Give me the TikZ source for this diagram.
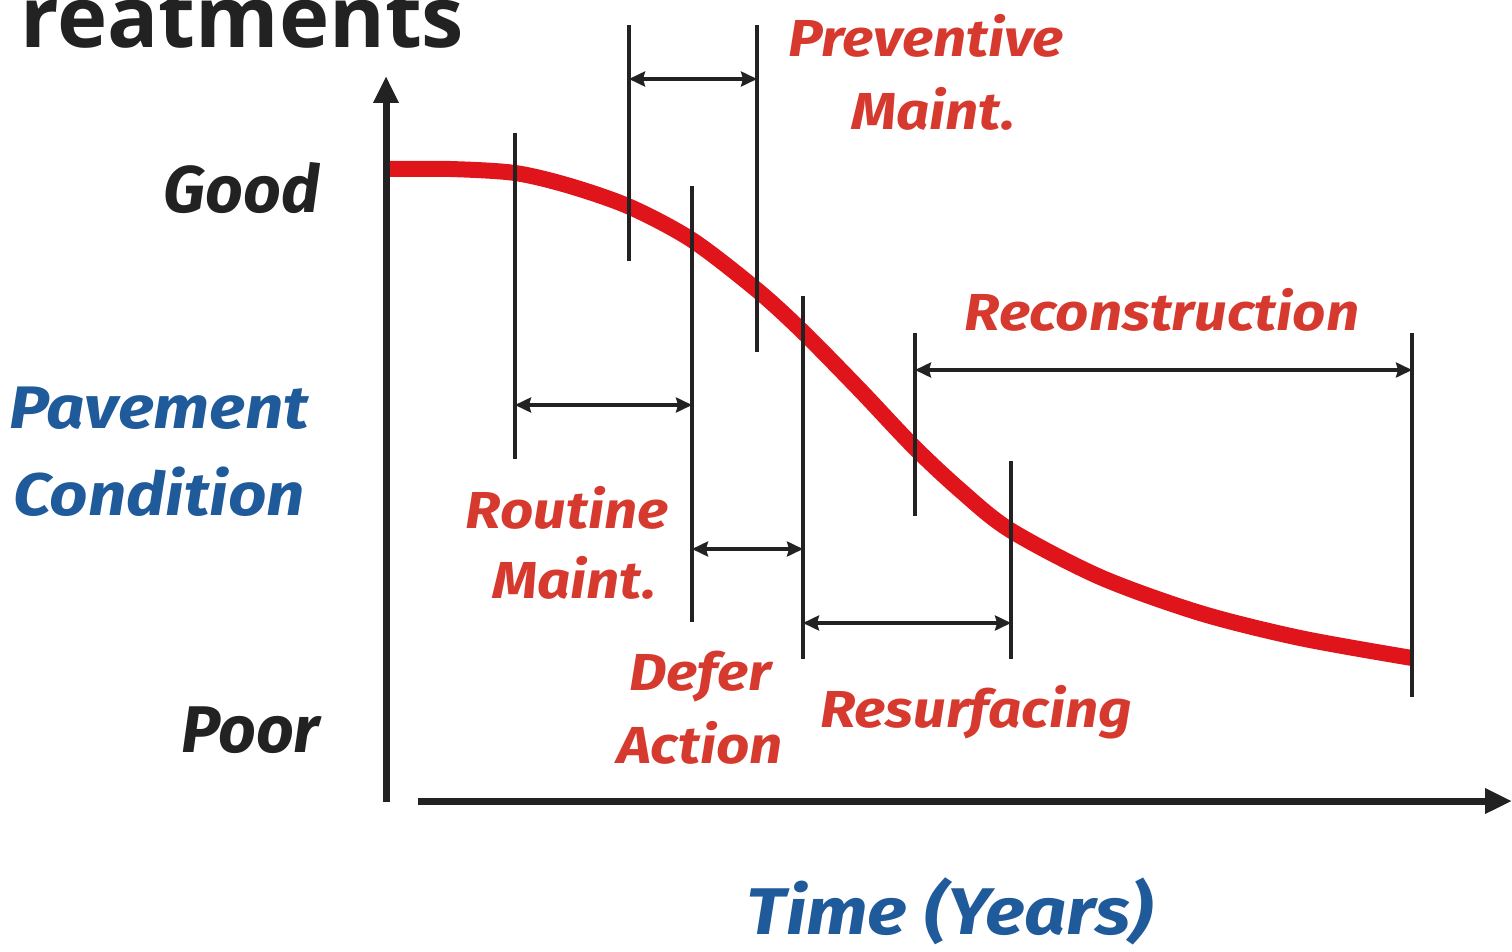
\documentclass[tikz,border=0pt]{standalone}
\usepackage{fontspec}
\setmainfont{Fira Sans}
\newfontfamily\labelfont[FakeStretch=1.12]{Fira Sans}
\newfontfamily\headfont{Open Sans}
\usetikzlibrary{arrows.meta}
\definecolor{ink}{HTML}{222222}
\definecolor{curvered}{HTML}{E0141B}
\definecolor{labelred}{HTML}{D63A2F}
\definecolor{axisblue}{HTML}{1F5A9A}
\tikzset{
  tick/.style={draw=ink, line width=3.4pt},
  span/.style={draw=ink, line width=3.2pt, {Stealth[length=16pt,width=15pt,inset=2pt]}-{Stealth[length=16pt,width=15pt,inset=2pt]}},
  axis/.style={draw=ink, line width=7pt, -{Stealth[length=27pt,width=24pt,inset=0pt]}},
  redlabel/.style={text=labelred, font=\labelfont\fontsize{52}{52}\selectfont\bfseries\itshape, anchor=base, inner sep=0pt},
  bluelabel/.style={text=axisblue, font=\labelfont\fontsize{60}{60}\selectfont\bfseries\itshape, anchor=base, inner sep=0pt},
  levellabel/.style={text=ink, font=\fontsize{66}{66}\selectfont\bfseries\itshape, anchor=base east, inner sep=0pt},
}
\begin{document}
\begin{tikzpicture}[x=1pt, y=-1pt]
  \useasboundingbox (0,0) rectangle (1512,952);
  \fill[white] (0,0) rectangle (1512,952);

  % heading, cut off by the top edge
  \begin{scope}
    \clip (0,0) rectangle (1512,952);
    \node[anchor=base west, inner sep=0pt, text=ink, font=\headfont\fontsize{85}{85}\selectfont\bfseries] (head) at (20,48) {reatments};
  \end{scope}

  % axes
  \coordinate (yb) at (386,802);
  \coordinate (yt) at (386,76);
  \coordinate (xl) at (418,801);
  \coordinate (xr) at (1512,801);
  \draw[axis] (yb) -- (yt);
  \draw[axis] (xl) -- (xr);

  % deterioration curve
  \draw[curvered, line width=16pt, line cap=butt] plot[smooth, tension=0.5] coordinates {
    (390,169) (450,169) (515,173) (570,186) (630,207) (692,240) (757,290)
    (803,332) (860,390) (913,446) (960,490) (1010,530) (1100,577)
    (1200,613) (1300,638) (1412,658)};

  % treatment boundaries
  \coordinate (rmT) at (515,133);  \coordinate (rmB) at (515,459);
  \coordinate (pmT) at (629,25);   \coordinate (pmB) at (629,261);
  \coordinate (peT) at (757,25);   \coordinate (peB) at (757,352);
  \coordinate (daT) at (692,186);  \coordinate (daB) at (692,622);
  \coordinate (dbT) at (803,296);  \coordinate (dbB) at (803,659);
  \coordinate (rcT) at (915,333);  \coordinate (rcB) at (915,516);
  \coordinate (rsT) at (1011,461); \coordinate (rsB) at (1011,659);
  \coordinate (reT) at (1412,333); \coordinate (reB) at (1412,697);
  \foreach \a/\b in {rmT/rmB, pmT/pmB, peT/peB, daT/daB, dbT/dbB, rcT/rcB, rsT/rsB, reT/reB}
    \draw[tick] (\a) -- (\b);

  % spans
  \coordinate (pmL) at (629,79);   \coordinate (pmR) at (757,79);
  \coordinate (rmL) at (515,405);  \coordinate (rmR) at (692,405);
  \coordinate (daL) at (692,549);  \coordinate (daR) at (803,549);
  \coordinate (rsL) at (803,623);  \coordinate (rsR) at (1011,623);
  \coordinate (rcL) at (915,370);  \coordinate (rcR) at (1412,370);
  \draw[span] (pmL) -- (pmR);
  \draw[span] (rmL) -- (rmR);
  \draw[span] (daL) -- (daR);
  \draw[span] (rsL) -- (rsR);
  \draw[span] (rcL) -- (rcR);

  % treatment labels
  \node[redlabel] (prev1) at (926,57)  {Preventive};
  \node[redlabel] (prev2) at (933,130) {Maint.};
  \node[redlabel] (recon) at (1162,330) {Reconstruction};
  \node[redlabel] (rout1) at (567,528) {Routine};
  \node[redlabel] (rout2) at (574,598) {Maint.};
  \node[redlabel] (def1)  at (700,690) {Defer};
  \node[redlabel] (def2)  at (700,763) {Action};
  \node[redlabel] (resurf) at (976,727) {Resurfacing};

  % axis labels
  \node[levellabel] (good) at (320,212) {Good};
  \node[levellabel] (poor) at (320,752) {Poor};
  \node[bluelabel] (pav)  at (159,428) {Pavement};
  \node[bluelabel] (cond) at (159,515) {Condition};
  \node[bluelabel, font=\labelfont\fontsize{66}{66}\selectfont\bfseries\itshape] (time) at (950,934) {Time (Years)};
\end{tikzpicture}
\end{document}
